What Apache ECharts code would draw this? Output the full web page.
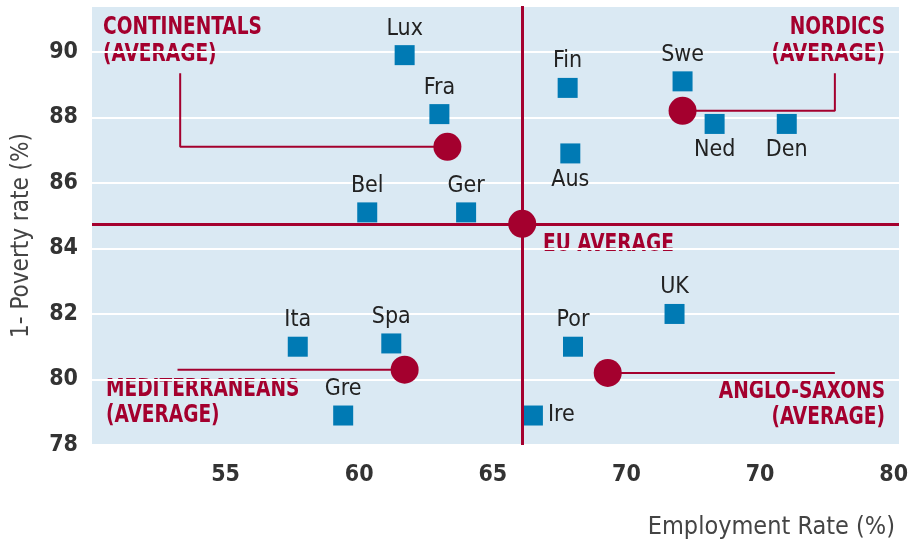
<!DOCTYPE html>
<html>
<head>
<meta charset="utf-8">
<script src="https://cdn.jsdelivr.net/npm/echarts@6/dist/echarts.min.js"></script>
<style>
  html, body { margin: 0; padding: 0; background: #fff; }
  #chart { width: 914px; height: 551px; }
</style>
</head>
<body>
<div id="chart"></div>
<script>
const countries  = ['Lux', 'Fra', 'Bel', 'Ger', 'Fin', 'Swe', 'Ned', 'Den', 'Aus', 'UK', 'Por', 'Ire', 'Ita', 'Spa', 'Gre'];
const employment = [61.7, 63.0, 60.3, 64.0, 67.8, 72.1, 73.3, 76.0, 67.9, 71.8, 68.0, 66.5, 57.7, 61.2, 59.4];
const poverty    = [89.9, 88.1, 85.1, 85.1, 88.9, 89.1, 87.8, 87.8, 86.9, 82.0, 81.0, 78.9, 81.0, 81.1, 78.9];

const groups    = ['CONTINENTALS', 'NORDICS', 'MEDITERRANEANS', 'ANGLO-SAXONS', 'EU AVERAGE'];
const groupEmp  = [63.3, 72.1, 61.7, 69.3, 66.1];
const groupPov  = [87.1, 88.2, 80.3, 80.2, 84.75];

// leader lines from each average dot to its caption
const leaderContinentals = [[53.3, 89.35], [53.3, 87.1], [63.3, 87.1]];
const leaderNordics      = [[72.1, 88.2], [77.8, 88.2], [77.8, 89.35]];
const leaderMed          = [[53.2, 80.3], [61.7, 80.3]];
const leaderAnglo        = [[69.3, 80.2], [77.8, 80.2]];

const xTicks      = [55, 60, 65, 70, 75, 80];
const xTickLabels = ['55', '60', '65', '70', '70', '80'];
const yTicks      = [78, 80, 82, 84, 86, 88, 90];

const RED  = '#a4002e';
const BLUE = '#007ab4';
const CAPTION_FONT = 'bold 24px "DejaVu Sans Condensed"';

const labelPos = { Ned: 'bottom', Den: 'bottom', Aus: 'bottom', Ire: 'right' };

const chart = echarts.init(document.getElementById('chart'));

const leaderSeries = (data) => ({
  type: 'line',
  data: data,
  symbol: 'none',
  silent: true,
  z: 2,
  lineStyle: { color: RED, width: 2 },
});

// condensed red captions, squeezed horizontally like the original typeface
const caption = (text, x, y, align, lineHeight) => ({
  type: 'text', x: x, y: y, scaleX: 0.86, silent: true,
  style: {
    text: text, fill: RED, align: align, verticalAlign: 'top',
    lineHeight: lineHeight, font: CAPTION_FONT,
  },
});

const option = {
  animation: false,
  grid: {
    left: 92, right: 15, top: 6, bottom: 106,
    show: true, backgroundColor: '#dae9f3', borderWidth: 0,
  },
  xAxis: {
    type: 'value',
    min: 50, max: 80.2, interval: 5,
    axisLine: { show: false },
    axisTick: { show: false },
    splitLine: { show: false },
    axisLabel: {
      margin: 19,
      color: '#333',
      fontFamily: 'DejaVu Sans Condensed',
      fontWeight: 'bold',
      fontSize: 23,
      formatter: (v) => {
        const i = xTicks.indexOf(v);
        return i >= 0 ? xTickLabels[i] : '';
      },
    },
    name: 'Employment Rate (%)',
    nameLocation: 'end',
    nameGap: -4,
    nameTextStyle: {
      align: 'right', verticalAlign: 'top',
      padding: [70, 0, 0, 0],
      color: '#444', fontFamily: 'DejaVu Sans Condensed', fontSize: 25,
    },
  },
  yAxis: {
    type: 'value',
    min: 78, max: 91.4, interval: 2,
    axisLine: { show: false },
    axisTick: { show: false },
    splitLine: { show: true, lineStyle: { color: '#fff', width: 2 } },
    axisLabel: {
      margin: 14,
      color: '#333',
      fontFamily: 'DejaVu Sans Condensed',
      fontWeight: 'bold',
      fontSize: 23,
      formatter: (v) => (yTicks.indexOf(v) >= 0 ? String(v) : ''),
    },
    name: '1- Poverty rate (%)',
    nameLocation: 'middle',
    nameGap: 58,
    nameTextStyle: { color: '#444', fontFamily: 'DejaVu Sans Condensed', fontSize: 24, padding: [0, 20, 0, 0] },
  },
  series: [
    {
      type: 'scatter',
      data: [],
      silent: true,
      z: 1,
      markLine: {
        silent: true,
        symbol: 'none',
        label: { show: false },
        lineStyle: { color: RED, width: 3, type: 'solid' },
        data: [{ xAxis: groupEmp[4] }, { yAxis: groupPov[4] }],
      },
    },
    leaderSeries(leaderContinentals),
    leaderSeries(leaderNordics),
    leaderSeries(leaderMed),
    leaderSeries(leaderAnglo),
    {
      name: 'Averages',
      type: 'scatter',
      symbol: 'circle',
      symbolSize: 28,
      z: 3,
      itemStyle: { color: RED, opacity: 1 },
      data: groups.map((g, i) => ({ name: g, value: [groupEmp[i], groupPov[i]] })),
    },
    {
      name: 'Countries',
      type: 'scatter',
      symbol: 'rect',
      symbolSize: 20,
      z: 4,
      itemStyle: { color: BLUE, opacity: 1 },
      data: countries.map((c, i) => ({
        name: c,
        value: [employment[i], poverty[i]],
        label: { position: labelPos[c] || 'top' },
      })),
      label: {
        show: true,
        formatter: '{b}',
        distance: 5,
        color: '#222',
        fontFamily: 'DejaVu Sans Condensed',
        fontSize: 23,
      },
    },
  ],
  graphic: [
    caption('CONTINENTALS\n(AVERAGE)', 103, 14, 'left', 27),
    caption('NORDICS\n(AVERAGE)', 885, 14, 'right', 27),
    caption('EU AVERAGE', 543, 231, 'left', 27),
    caption('MEDITERRANEANS\n(AVERAGE)', 106, 377, 'left', 26),
    caption('ANGLO-SAXONS\n(AVERAGE)', 885, 379, 'right', 26),
  ],
};

chart.setOption(option);
</script>
</body>
</html>
